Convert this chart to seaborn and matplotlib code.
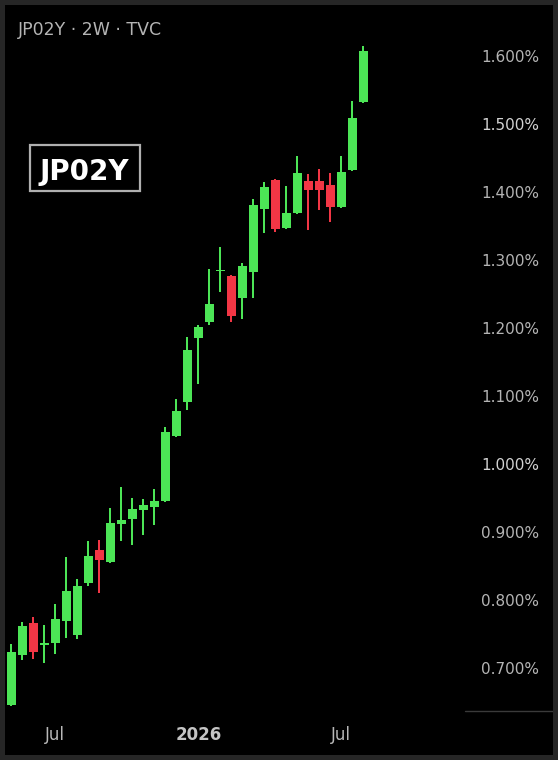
import numpy as np
import pandas as pd
import seaborn as sns
import matplotlib.pyplot as plt
from matplotlib.patches import Rectangle
from matplotlib.lines import Line2D

# JP02Y, 2-week candles (yield in %)
dates = pd.date_range("2025-05-12", periods=33, freq="14D")
opens = [0.646, 0.719, 0.766, 0.734, 0.737, 0.769, 0.749, 0.825, 0.874, 0.856, 0.912,
         0.919, 0.932, 0.937, 0.946, 1.041, 1.091, 1.185, 1.209, 1.2845, 1.277, 1.244,
         1.282, 1.375, 1.418, 1.347, 1.369, 1.416, 1.416, 1.410, 1.378, 1.432, 1.532]
highs = [0.735, 0.768, 0.775, 0.763, 0.794, 0.863, 0.831, 0.887, 0.888, 0.935, 0.966,
         0.950, 0.949, 0.963, 1.054, 1.096, 1.187, 1.204, 1.287, 1.319, 1.278, 1.296,
         1.390, 1.415, 1.419, 1.409, 1.453, 1.427, 1.434, 1.428, 1.453, 1.534, 1.615]
lows = [0.644, 0.712, 0.713, 0.707, 0.721, 0.744, 0.743, 0.821, 0.810, 0.854, 0.887,
        0.881, 0.896, 0.910, 0.944, 1.040, 1.079, 1.118, 1.204, 1.253, 1.209, 1.213,
        1.244, 1.340, 1.341, 1.346, 1.368, 1.344, 1.374, 1.356, 1.376, 1.431, 1.531]
closes = [0.724, 0.762, 0.724, 0.737, 0.772, 0.813, 0.821, 0.865, 0.859, 0.913, 0.918,
          0.934, 0.940, 0.946, 1.047, 1.078, 1.168, 1.202, 1.235, 1.2855, 1.218, 1.291,
          1.381, 1.407, 1.346, 1.369, 1.428, 1.403, 1.403, 1.378, 1.429, 1.509, 1.607]

tick_dates = ["2025-07-07", "2026-01-05", "2026-07-06"]
tick_labels = ["Jul", "2026", "Jul"]
price_ticks = [0.7, 0.8, 0.9, 1.0, 1.1, 1.2, 1.3, 1.4, 1.5, 1.6]

GREEN = "#4ce556"
RED = "#f23645"
W, H = 558, 760

sns.set_theme(style="dark", rc={"axes.facecolor": "black", "figure.facecolor": "black"})
plt.rcParams["font.family"] = ["DejaVu Sans"]

df = pd.DataFrame({"date": dates, "open": opens, "high": highs, "low": lows, "close": closes})
df["x"] = np.arange(len(df))
df["color"] = np.where(df["close"] >= df["open"], GREEN, RED)
df["bottom"] = df[["open", "close"]].min(axis=1)
df["body"] = (df["close"] - df["open"]).abs().clip(lower=0.0015)

fig = plt.figure(figsize=(W / 100, H / 100), dpi=100)
ax = fig.add_axes([5 / W, 49 / H, 460 / W, 706 / H])

ax.vlines(df["x"], df["low"], df["high"], colors=df["color"], linewidth=1.1, antialiased=False)
ax.bar(df["x"], df["body"], bottom=df["bottom"], width=0.8, color=df["color"], linewidth=0,
       antialiased=False)

ax.set_xlim(-0.573, 41.25)
ax.set_ylim(0.6368, 1.675)
sns.despine(ax=ax, left=True, bottom=True)
for s in ax.spines.values():
    s.set_visible(False)
ax.grid(False)

# time axis
pos = [df.index[df["date"] == pd.Timestamp(d)][0] for d in tick_dates]
ax.set_xticks(pos)
ax.set_xticklabels(tick_labels)
ax.tick_params(axis="x", length=0, pad=10.5, labelsize=12, labelcolor="#b8b8b8")
ax.get_xticklabels()[1].set_fontweight("semibold")
ax.get_xticklabels()[1].set_color("#c4c4c4")

# price axis
ax.yaxis.tick_right()
ax.set_yticks(price_ticks)
ax.set_yticklabels([f"{v:.3f}%" for v in price_ticks])
ax.tick_params(axis="y", length=0, pad=11.5, labelsize=11, labelcolor="#b4b4b4")
for lab, v in zip(ax.get_yticklabels(), price_ticks):
    if v in (1.0, 1.5):
        lab.set_color("#d2d2d2")

# separator under price scale
fig.add_artist(Line2D([465 / W, 553 / W], [1 - 711 / H, 1 - 711 / H],
                      transform=fig.transFigure, color="#3a3a3a", linewidth=1))

# header and symbol badge
fig.text(18 / W, 1 - 35 / H, "JP02Y · 2W · TVC", color="#b4b4b4", fontsize=12.5,
         ha="left", va="baseline")
fig.add_artist(Rectangle((30 / W, 1 - 191 / H), 110 / W, 46 / H, transform=fig.transFigure,
                         facecolor="black", edgecolor="#b0b0b0", linewidth=1.6, zorder=5))
fig.text(84 / W, 1 - 179.5 / H, "JP02Y", color="white", fontsize=20, fontweight="bold",
         ha="center", va="baseline", zorder=6)

# outer frame
fig.add_artist(Rectangle((0, 0), 1, 1, transform=fig.transFigure, fill=False,
                         edgecolor="#262626", linewidth=7.2, zorder=10))

fig.savefig("out.png", dpi=100)
